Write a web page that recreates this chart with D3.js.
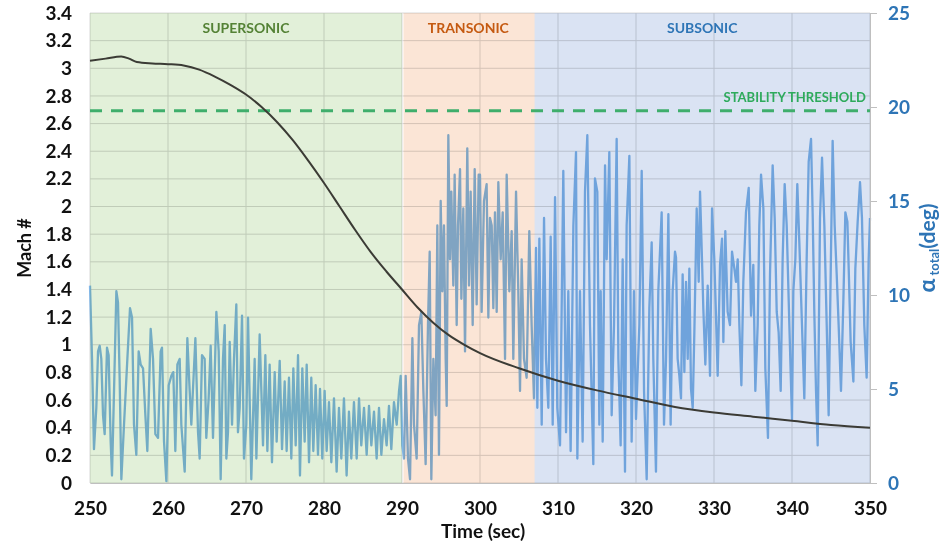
<!DOCTYPE html>
<html>
<head>
<meta charset="utf-8">
<script src="https://cdn.jsdelivr.net/npm/d3@7"></script>
<style>
  body { margin: 0; background: #fff; }
  svg { display: block; font-family: Lato, "Open Sans", sans-serif; }
  .region { mix-blend-mode: multiply; }
</style>
</head>
<body>
<div class="chart"></div>
<script>
// regions of flight
var regionNames = ["SUPERSONIC", "TRANSONIC", "SUBSONIC"];
var regionStart = [250, 290, 307];
var regionEnd = [290, 307, 350];
var regionFill = ["#e2f0d9", "#fbe5d6", "#dae3f3"];
var regionText = ["#548235", "#c55a11", "#2e75b6"];

// tick labels
var timeTicks = [250, 260, 270, 280, 290, 300, 310, 320, 330, 340, 350];
var machTicks = [0, 0.2, 0.4, 0.6, 0.8, 1, 1.2, 1.4, 1.6, 1.8, 2, 2.2, 2.4, 2.6, 2.8, 3, 3.2, 3.4];
var alphaTicks = [0, 5, 10, 15, 20, 25];

var stabilityThreshold = 19.8;

// Mach number vs time
var machTime = [250, 252, 254, 255, 256, 258, 260, 262, 264, 266, 268, 270, 272, 274, 276, 278, 280,
  282, 284, 286, 288, 290, 292, 294, 296, 298, 300, 305, 310, 315, 320, 325, 330, 335, 340, 345, 350];
var machValue = [3.055, 3.07, 3.085, 3.07, 3.045, 3.035, 3.03, 3.02, 2.99, 2.94, 2.88, 2.81, 2.72, 2.61, 2.48, 2.33, 2.17,
  2.00, 1.83, 1.67, 1.53, 1.40, 1.27, 1.16, 1.07, 1.00, 0.94, 0.83, 0.74, 0.67, 0.61, 0.55, 0.51, 0.48, 0.45, 0.42, 0.40];

// total angle of attack (deg) vs time
var alphaSeries = [
  [250.0, 10.5], [250.26, 6.6], [250.51, 1.8], [250.81, 4.0], [251.03, 7.0], [251.24, 7.3], [251.45, 6.6],
  [251.67, 3.6], [251.88, 2.6], [252.18, 7.2], [252.39, 6.8], [252.65, 2.2], [252.82, 0.4], [253.08, 4.9],
  [253.38, 10.2], [253.59, 9.6], [253.8, 5.6], [254.02, 0.2], [254.36, 3.1], [254.79, 6.6], [255.13, 9.3],
  [255.39, 8.8], [255.64, 3.1], [255.94, 1.5], [256.24, 7.0], [256.5, 6.3], [256.8, 6.1], [257.1, 3.6],
  [257.35, 1.7], [257.78, 8.2], [258.08, 6.6], [258.38, 2.6], [258.72, 2.4], [259.06, 7.0], [259.23, 7.2],
  [259.49, 2.2], [259.79, 0.1], [260.09, 5.2], [260.43, 5.7], [260.68, 5.9], [260.94, 1.7], [261.2, 6.3],
  [261.5, 6.6], [261.71, 3.1], [262.14, 0.6], [262.48, 7.7], [262.78, 4.9], [262.99, 3.1], [263.51, 7.7],
  [263.85, 2.7], [264.06, 1.3], [264.36, 6.8], [264.7, 6.6], [264.91, 2.4], [265.21, 4.5], [265.47, 7.3],
  [265.77, 2.4], [266.2, 9.1], [266.5, 7.0], [266.75, 0.2], [267.05, 6.6], [267.27, 8.4], [267.48, 1.3],
  [267.69, 2.7], [267.91, 7.5], [268.21, 3.1], [268.46, 6.6], [268.76, 9.5], [268.97, 2.7], [269.19, 4.0],
  [269.49, 8.9], [269.74, 1.3], [270.04, 3.1], [270.26, 8.8], [270.68, 0.2], [271.11, 6.6], [271.33, 1.3],
  [271.75, 7.9], [271.97, 4.9], [272.18, 2.0], [272.48, 6.8], [272.74, 1.7], [273.03, 6.3], [273.33, 1.1],
  [273.68, 5.9], [273.93, 2.2], [274.32, 6.5], [274.62, 1.8], [274.96, 5.4], [275.21, 1.7], [275.51, 5.6],
  [275.81, 1.3], [276.07, 6.1], [276.37, 2.0], [276.67, 6.8], [276.92, 0.4], [277.22, 6.1], [277.52, 2.2],
  [277.78, 6.3], [278.08, 1.1], [278.37, 5.6], [278.63, 1.7], [278.93, 5.2], [279.23, 1.5], [279.49, 5.0],
  [279.78, 1.3], [280.08, 4.9], [280.34, 1.7], [280.64, 4.3], [280.94, 1.1], [281.28, 4.5], [281.62, 0.6],
  [281.92, 4.0], [282.22, 1.3], [282.56, 4.5], [282.9, 0.4], [283.2, 3.8], [283.5, 1.3], [283.84, 4.3],
  [284.19, 1.3], [284.49, 4.5], [284.78, 2.0], [285.13, 4.0], [285.47, 1.5], [285.77, 4.1], [286.07, 2.0],
  [286.41, 3.8], [286.75, 1.3], [287.05, 4.0], [287.35, 1.5], [287.69, 3.4], [288.03, 2.0], [288.33, 4.1],
  [288.63, 1.8], [288.97, 4.3], [289.32, 3.1], [289.62, 4.9], [289.83, 5.7], [290.04, 2.0], [290.26, 1.3],
  [290.47, 5.7], [290.77, 1.3], [291.03, 0.2], [291.33, 7.7], [291.54, 3.1], [291.88, 1.3], [292.18, 8.4],
  [292.48, 9.1], [292.74, 4.9], [293.03, 1.0], [293.33, 8.4], [293.55, 12.3], [293.76, 0.2], [294.02, 6.6],
  [294.31, 3.6], [294.53, 13.7], [294.74, 1.5], [294.96, 15.0], [295.17, 10.2], [295.38, 13.7], [295.6, 6.6],
  [295.73, 4.1], [295.94, 18.5], [296.15, 11.9], [296.32, 15.5], [296.58, 10.5], [296.75, 16.4], [297.01, 8.4],
  [297.18, 13.7], [297.44, 16.7], [297.61, 9.8], [297.86, 14.6], [298.08, 7.0], [298.37, 17.8], [298.59, 10.5],
  [298.8, 15.5], [299.06, 8.4], [299.32, 16.7], [299.57, 9.5], [299.83, 16.4],
  [300.0, 16.4], [300.21, 9.1], [300.51, 15.0], [300.85, 15.9], [301.07, 8.8], [301.28, 14.1], [301.5, 13.7],
  [301.71, 9.3], [301.92, 14.4], [302.14, 9.1], [302.35, 16.0], [302.65, 11.9], [302.91, 14.4], [303.21, 6.6],
  [303.42, 16.4], [303.76, 10.2], [304.06, 13.4], [304.27, 6.6], [304.62, 15.5], [304.91, 10.2], [305.13, 4.9],
  [305.34, 11.9], [305.64, 6.6], [305.98, 5.6], [306.32, 13.4], [306.62, 8.4], [306.92, 4.5], [307.18, 12.5],
  [307.35, 4.0], [307.61, 13.0], [307.91, 3.1], [308.21, 14.1], [308.46, 6.6], [308.76, 4.0], [309.06, 13.1],
  [309.32, 3.1], [309.62, 15.2], [309.91, 4.0], [310.26, 2.0], [310.68, 16.6], [311.03, 2.7], [311.32, 10.2],
  [311.62, 1.7], [311.97, 13.7], [312.31, 17.6], [312.48, 1.3], [312.82, 10.2], [313.16, 2.2], [313.46, 15.5],
  [313.76, 18.5], [314.1, 8.4], [314.53, 1.0], [314.74, 16.2], [315.04, 15.5], [315.3, 3.1], [315.47, 10.2],
  [315.73, 2.2], [316.03, 16.9], [316.24, 11.9], [316.58, 17.6], [316.88, 3.6], [317.18, 8.4], [317.52, 18.3],
  [317.74, 6.6], [318.03, 2.0], [318.29, 11.9], [318.59, 0.6], [318.8, 13.7], [319.15, 17.4], [319.44, 2.2],
  [319.74, 10.2], [320.0, 3.4], [320.43, 8.4], [320.73, 16.6], [321.03, 4.9], [321.37, 0.2], [321.71, 9.3],
  [322.01, 12.8], [322.22, 6.6], [322.56, 0.6], [322.86, 10.2], [323.29, 14.4], [323.59, 3.1], [323.85, 6.6],
  [324.15, 14.3], [324.44, 3.1], [324.7, 10.2], [325.0, 12.3],
  [325.13, 12.0], [325.34, 6.6], [325.56, 5.7], [325.77, 4.5], [325.98, 11.1], [326.2, 5.9], [326.41, 10.7],
  [326.63, 6.6], [326.84, 11.4], [327.05, 5.0], [327.27, 4.0], [327.48, 8.0], [327.78, 14.6], [328.04, 10.7],
  [328.21, 15.5], [328.46, 11.9], [328.63, 9.3], [328.89, 6.3], [329.19, 10.5], [329.49, 5.7], [329.75, 14.6],
  [330.04, 11.9], [330.26, 8.8], [330.47, 5.7], [330.77, 11.6], [331.03, 13.0], [331.2, 7.5], [331.45, 13.4],
  [331.75, 9.1], [332.05, 8.4], [332.31, 12.3], [332.61, 11.4], [332.82, 10.7], [333.04, 11.9], [333.25, 8.4],
  [333.51, 5.2], [333.76, 10.7], [334.1, 14.4], [334.45, 15.7], [334.75, 8.9], [335.04, 11.6], [335.3, 4.9],
  [335.6, 8.4], [335.81, 13.7], [336.03, 16.4], [336.33, 14.6], [336.58, 6.1], [336.92, 2.4], [337.18, 11.1],
  [337.52, 16.9], [337.78, 14.1], [338.04, 9.1], [338.29, 8.0], [338.55, 4.9], [338.8, 11.9], [339.06, 15.9],
  [339.32, 13.7], [339.66, 8.4], [340.0, 3.4], [340.17, 10.2], [340.43, 11.9], [340.68, 15.9], [340.94, 12.8],
  [341.28, 8.4], [341.58, 4.5], [341.88, 11.9], [342.14, 17.1], [342.44, 18.3], [342.65, 14.3], [342.86, 9.1],
  [343.08, 4.9], [343.29, 2.0], [343.59, 14.1], [343.85, 17.3], [344.15, 13.7], [344.45, 8.4], [344.7, 3.6],
  [345.0, 12.3], [345.21, 18.2], [345.47, 13.7], [345.73, 11.1], [345.98, 8.4], [346.28, 4.9], [346.58, 9.6],
  [346.84, 14.4], [347.1, 13.9], [347.27, 11.4], [347.52, 7.5], [347.87, 5.4], [348.12, 11.4], [348.42, 13.9],
  [348.72, 16.0], [348.97, 14.1], [349.27, 8.4], [349.57, 5.6], [349.83, 11.9], [350.0, 14.1]
];

var svgWidth = 944;
var svgHeight = 544;
var margin = { top: 13, right: 74, bottom: 61, left: 90 };
var width = svgWidth - margin.left - margin.right;
var height = svgHeight - margin.top - margin.bottom;

var svg = d3.select(".chart")
  .append("svg")
  .attr("width", svgWidth)
  .attr("height", svgHeight);

svg.append("rect")
  .attr("width", svgWidth)
  .attr("height", svgHeight)
  .attr("fill", "#fff");

var chartGroup = svg.append("g")
  .attr("transform", `translate(${margin.left}, ${margin.top})`);

// scales
var xScale = d3.scaleLinear().domain([250, 350]).range([0, width]);
var machScale = d3.scaleLinear().domain([0, 3.4]).range([height, 0]);
var alphaScale = d3.scaleLinear().domain([0, 25]).range([height, 0]);

// grid lines
chartGroup.append("g")
  .selectAll("line")
  .data(machTicks)
  .enter()
  .append("line")
  .attr("x1", 0)
  .attr("x2", width)
  .attr("y1", d => machScale(d))
  .attr("y2", d => machScale(d))
  .attr("stroke", "#d9d9d9")
  .attr("stroke-width", 1);

chartGroup.append("g")
  .selectAll("line")
  .data(timeTicks)
  .enter()
  .append("line")
  .attr("x1", d => xScale(d))
  .attr("x2", d => xScale(d))
  .attr("y1", 0)
  .attr("y2", height)
  .attr("stroke", "#d9d9d9")
  .attr("stroke-width", 1);

// angle of attack line
var alphaLine = d3.line()
  .x(d => xScale(d[0]))
  .y(d => alphaScale(d[1]));

chartGroup.append("path")
  .datum(alphaSeries)
  .attr("d", alphaLine)
  .attr("fill", "none")
  .attr("stroke", "#82b7e7")
  .attr("stroke-width", 2.3)
  .attr("stroke-linejoin", "round");

// shaded regions, multiplied over the grid and the alpha line
chartGroup.append("g")
  .selectAll("rect")
  .data(regionNames)
  .enter()
  .append("rect")
  .classed("region", true)
  .attr("x", (d, i) => xScale(regionStart[i]) + (i === 1 ? 1.5 : 0))
  .attr("width", (d, i) => xScale(regionEnd[i]) - xScale(regionStart[i]) - (i === 1 ? 1.5 : 0))
  .attr("y", 0)
  .attr("height", height)
  .attr("fill", (d, i) => regionFill[i]);

// region labels
chartGroup.append("g")
  .selectAll("text")
  .data(regionNames)
  .enter()
  .append("text")
  .attr("x", (d, i) => (xScale(regionStart[i]) + xScale(regionEnd[i])) / 2)
  .attr("y", 20)
  .attr("text-anchor", "middle")
  .attr("font-size", 14)
  .attr("font-weight", "bold")
  .attr("fill", (d, i) => regionText[i])
  .text(d => d);

// stability threshold
chartGroup.append("line")
  .attr("x1", 0)
  .attr("x2", width)
  .attr("y1", alphaScale(stabilityThreshold))
  .attr("y2", alphaScale(stabilityThreshold))
  .attr("stroke", "#3fae6c")
  .attr("stroke-width", 3)
  .attr("stroke-dasharray", "12,9");

chartGroup.append("text")
  .attr("x", width - 4)
  .attr("y", alphaScale(stabilityThreshold) - 9)
  .attr("text-anchor", "end")
  .attr("font-size", 13)
  .attr("font-weight", "bold")
  .attr("fill", "#2eaa5c")
  .text("STABILITY THRESHOLD");

// Mach line
var machLine = d3.line()
  .x((d, i) => xScale(machTime[i]))
  .y(d => machScale(d))
  .curve(d3.curveMonotoneX);

chartGroup.append("path")
  .datum(machValue)
  .attr("d", machLine)
  .attr("fill", "none")
  .attr("stroke", "#3b3b35")
  .attr("stroke-width", 2);

// axes
var bottomAxis = d3.axisBottom(xScale)
  .tickValues(timeTicks)
  .tickSize(0)
  .tickPadding(19)
  .tickFormat(d3.format("d"));

var leftAxis = d3.axisLeft(machScale)
  .tickValues(machTicks)
  .tickSize(0)
  .tickPadding(18)
  .tickFormat(d => String(+d.toFixed(1)));

var rightAxis = d3.axisRight(alphaScale)
  .tickValues(alphaTicks)
  .tickSize(7)
  .tickPadding(11);

var xAxisG = chartGroup.append("g")
  .attr("transform", `translate(0, ${height})`)
  .call(bottomAxis);

var yAxisG = chartGroup.append("g")
  .call(leftAxis);

var y2AxisG = chartGroup.append("g")
  .attr("transform", `translate(${width}, 0)`)
  .call(rightAxis);

xAxisG.select(".domain").attr("stroke", "#bfbfbf");
yAxisG.select(".domain").remove();
y2AxisG.select(".domain").attr("stroke", "#bfbfbf");
y2AxisG.selectAll(".tick line").attr("stroke", "#bfbfbf");

[xAxisG, yAxisG, y2AxisG].forEach(function(g) {
  g.selectAll("text")
    .attr("font-family", "Lato, 'Open Sans', sans-serif")
    .attr("font-size", 19)
    .attr("font-weight", "bold")
    .attr("fill", "#111");
});
y2AxisG.selectAll("text").attr("fill", "#2e75b6").attr("font-size", 19);

// axis titles
svg.append("text")
  .attr("x", margin.left + xScale(300) + 3)
  .attr("y", 538)
  .attr("text-anchor", "middle")
  .attr("font-size", 19)
  .attr("font-weight", "bold")
  .attr("fill", "#111")
  .text("Time (sec)");

svg.append("text")
  .attr("transform", `translate(31, ${margin.top + height / 2}) rotate(-90)`)
  .attr("text-anchor", "middle")
  .attr("font-size", 18)
  .attr("font-weight", "bold")
  .attr("fill", "#111")
  .text("Mach #");

var alphaTitle = svg.append("text")
  .attr("transform", `translate(935, ${margin.top + height / 2}) rotate(-90)`)
  .attr("text-anchor", "middle")
  .attr("font-weight", "bold")
  .attr("fill", "#2e75b6");

alphaTitle.append("tspan")
  .attr("font-size", 23)
  .text("α");
alphaTitle.append("tspan")
  .attr("font-size", 13)
  .attr("dy", 4)
  .text(" total");
alphaTitle.append("tspan")
  .attr("font-size", 21)
  .attr("dy", -4)
  .text("(deg)");
</script>
</body>
</html>
